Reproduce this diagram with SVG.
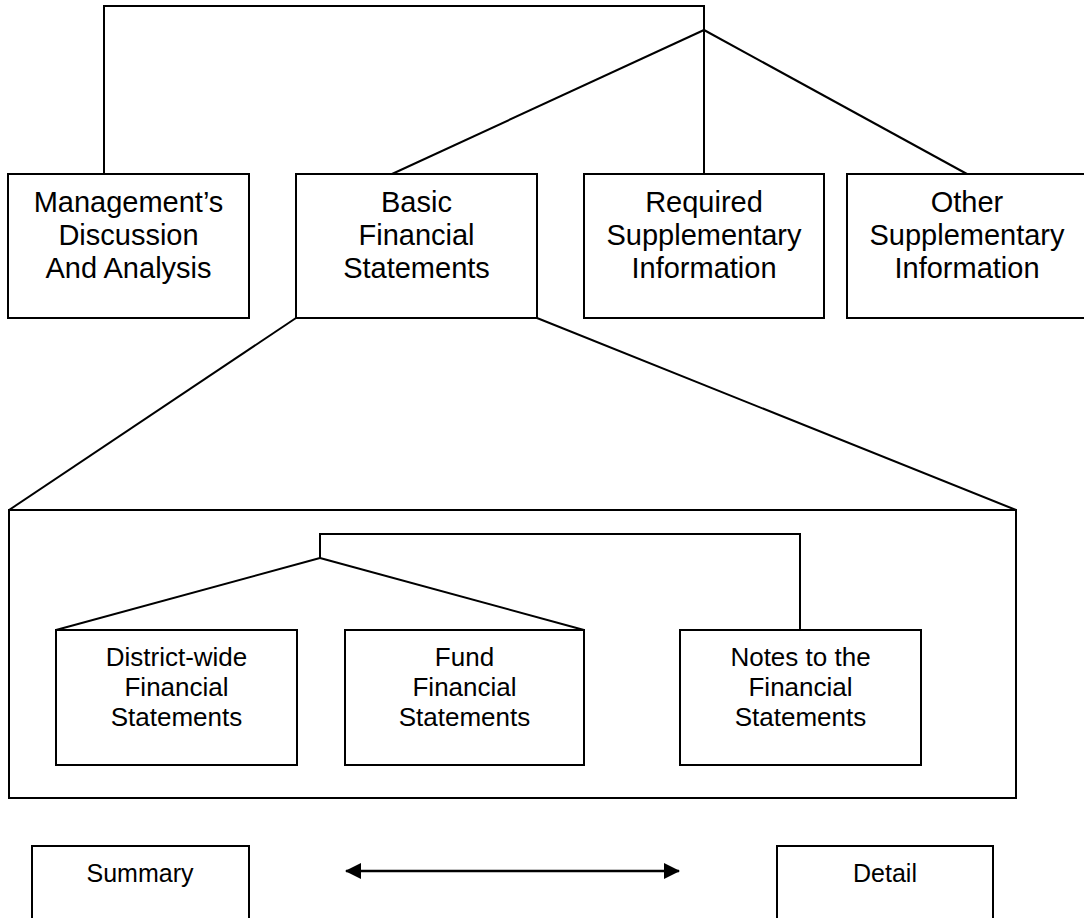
<svg xmlns="http://www.w3.org/2000/svg" width="1084" height="918" viewBox="0 0 1084 918">
<style>
.box{fill:#fff;stroke:#000;stroke-width:2}
.ln{fill:none;stroke:#000;stroke-width:2}
text{font-family:"Liberation Sans",Arial,sans-serif;fill:#000;text-anchor:middle}
.t1{font-size:29px}
.t2{font-size:26px}
.t3{font-size:25px}
</style>
<defs>
<marker id="ah" viewBox="0 0 16 16" refX="15" refY="8" markerWidth="16" markerHeight="16" markerUnits="userSpaceOnUse" orient="auto-start-reverse">
<path d="M0,0 L16,8 L0,16 Z" fill="#000"/>
</marker>
</defs>
<rect x="0" y="0" width="1084" height="918" fill="#fff"/>
<g id="connectors">
<polyline class="ln" points="104,174 104,6 704,6 704,174"/>
<line class="ln" x1="704" y1="30" x2="392" y2="174"/>
<line class="ln" x1="704" y1="30" x2="967" y2="174"/>
<line class="ln" x1="296" y1="318" x2="9" y2="510"/>
<line class="ln" x1="537" y1="318" x2="1016" y2="510"/>
<polyline class="ln" points="320,558 320,534 800,534 800,630"/>
<line class="ln" x1="320" y1="558" x2="56" y2="630"/>
<line class="ln" x1="320" y1="558" x2="584" y2="630"/>
<line x1="346" y1="871" x2="679" y2="871" stroke="#000" stroke-width="2.5" marker-start="url(#ah)" marker-end="url(#ah)"/>
</g>
<g id="bfs-container">
<rect class="ln" x="9" y="510" width="1007" height="288"/>
</g>
<g id="mdna">
<rect class="box" x="8" y="174" width="241" height="144"/>
<text class="t1" x="128.5" y="212">Management’s</text>
<text class="t1" x="128.5" y="245">Discussion</text>
<text class="t1" x="128.5" y="278">And Analysis</text>
</g>
<g id="basic">
<rect class="box" x="296" y="174" width="241" height="144"/>
<text class="t1" x="416.5" y="212">Basic</text>
<text class="t1" x="416.5" y="245">Financial</text>
<text class="t1" x="416.5" y="278">Statements</text>
</g>
<g id="rsi">
<rect class="box" x="584" y="174" width="240" height="144"/>
<text class="t1" x="704" y="212">Required</text>
<text class="t1" x="704" y="245">Supplementary</text>
<text class="t1" x="704" y="278">Information</text>
</g>
<g id="osi">
<rect class="box" x="847" y="174" width="240" height="144"/>
<text class="t1" x="967" y="212">Other</text>
<text class="t1" x="967" y="245">Supplementary</text>
<text class="t1" x="967" y="278">Information</text>
</g>
<g id="district">
<rect class="box" x="56" y="630" width="241" height="135"/>
<text class="t2" x="176.5" y="666">District-wide</text>
<text class="t2" x="176.5" y="696">Financial</text>
<text class="t2" x="176.5" y="726">Statements</text>
</g>
<g id="fund">
<rect class="box" x="345" y="630" width="239" height="135"/>
<text class="t2" x="464.5" y="666">Fund</text>
<text class="t2" x="464.5" y="696">Financial</text>
<text class="t2" x="464.5" y="726">Statements</text>
</g>
<g id="notes">
<rect class="box" x="680" y="630" width="241" height="135"/>
<text class="t2" x="800.5" y="666">Notes to the</text>
<text class="t2" x="800.5" y="696">Financial</text>
<text class="t2" x="800.5" y="726">Statements</text>
</g>
<g id="summary">
<rect class="box" x="32" y="846" width="217" height="90"/>
<text class="t3" x="140" y="882">Summary</text>
</g>
<g id="detail">
<rect class="box" x="777" y="846" width="216" height="90"/>
<text class="t3" x="885" y="882">Detail</text>
</g>
</svg>
